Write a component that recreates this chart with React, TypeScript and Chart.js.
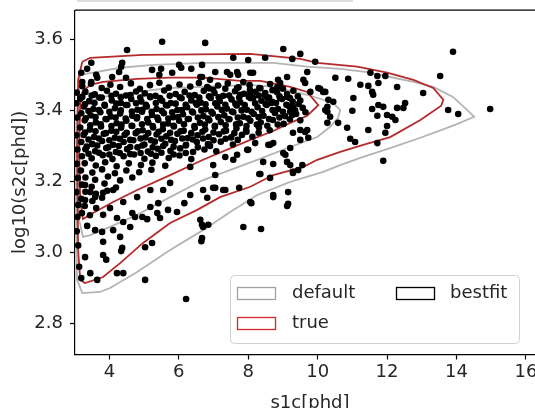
import React, { useEffect, useRef } from "react";
import { Chart, registerables } from "chart.js";
Chart.register(...registerables);

type P = [number, number];

const xTicks = [4, 6, 8, 10, 12, 14, 16];
const yTicks = [2.8, 3.0, 3.2, 3.4, 3.6];
const xLabel = "s1c[phd]";
const yLabel = "log10(s2c[phd])";
const legendNames = ["default", "true", "bestfit"];

// contour levels (closed polygons)
const trueOuter: P[] = [
  [3.22, 3.537], [3.45, 3.548], [4.97, 3.556], [8.06, 3.559], [9.5, 3.545], [9.99, 3.534],
  [11.14, 3.523], [12.0, 3.506], [12.76, 3.486], [13.33, 3.463], [13.62, 3.43], [13.56, 3.413],
  [12.96, 3.373], [12.09, 3.325], [11.31, 3.303], [10.65, 3.283], [9.99, 3.261], [9.59, 3.241],
  [8.72, 3.218], [8.06, 3.185], [7.19, 3.156], [6.53, 3.12], [5.75, 3.083], [4.97, 3.027],
  [4.31, 2.97], [3.82, 2.931], [3.3, 2.914], [3.16, 2.923], [3.1, 3.007], [3.07, 3.289],
  [3.1, 3.486], [3.22, 3.537],
];
const trueInner: P[] = [
  [3.22, 3.452], [3.45, 3.472], [3.82, 3.48], [4.8, 3.489], [5.75, 3.492], [6.7, 3.492],
  [7.77, 3.483], [8.35, 3.483], [9.21, 3.466], [9.7, 3.452], [10.02, 3.415], [9.7, 3.385],
  [9.21, 3.365], [8.72, 3.342], [8.06, 3.317], [6.7, 3.261], [5.75, 3.218], [4.8, 3.176],
  [4.11, 3.142], [3.53, 3.111], [3.24, 3.094], [3.16, 3.148], [3.13, 3.289], [3.16, 3.415],
  [3.22, 3.452],
];
const defaultOuter: P[] = [
  [3.16, 3.5], [4.31, 3.52], [5.26, 3.528], [6.7, 3.534], [8.06, 3.534], [8.72, 3.534],
  [9.7, 3.523], [10.65, 3.517], [11.43, 3.508], [12.09, 3.494], [12.76, 3.48], [13.33, 3.466],
  [13.9, 3.438], [14.31, 3.401], [14.51, 3.382], [14.1, 3.365], [13.73, 3.351], [12.96, 3.323],
  [12.09, 3.294], [11.31, 3.269], [10.65, 3.246], [10.16, 3.227], [9.21, 3.199], [8.26, 3.162],
  [7.48, 3.114], [6.7, 3.063], [5.75, 3.007], [4.8, 2.945], [4.02, 2.9], [3.73, 2.889],
  [3.22, 2.886], [3.07, 2.923], [3.04, 3.148], [3.07, 3.373], [3.16, 3.5],
];
const defaultInner: P[] = [
  [3.22, 3.407], [3.45, 3.427], [3.82, 3.438], [4.8, 3.452], [5.75, 3.463], [6.7, 3.466],
  [8.06, 3.472], [8.72, 3.466], [9.7, 3.444], [10.45, 3.421], [10.65, 3.401], [10.59, 3.379],
  [10.36, 3.354], [9.99, 3.325], [9.21, 3.297], [8.26, 3.261], [6.7, 3.204], [5.75, 3.156],
  [4.8, 3.106], [4.02, 3.072], [3.45, 3.049], [3.24, 3.044], [3.13, 3.092], [3.1, 3.289],
  [3.13, 3.387], [3.22, 3.407],
];

// scatter samples
const coreDense: P[] = [
  [3.22,3.468],[3.47,3.475],[3.78,3.463],[4.03,3.472],[4.31,3.466],[4.62,3.476],[4.88,3.461],[5.17,3.471],[5.44,3.478],[5.71,3.464],[6.02,3.473],[6.33,3.467],[6.58,3.477],[6.86,3.462],[7.13,3.470],[7.41,3.476],[7.72,3.465],[8.04,3.471],[8.32,3.463],[8.63,3.474],[8.92,3.468],
  [3.31,3.452],[3.58,3.445],[3.93,3.455],[4.19,3.447],[4.48,3.442],[4.77,3.453],[5.02,3.448],[5.33,3.441],[5.58,3.456],[5.91,3.446],[6.17,3.452],[6.46,3.443],[6.72,3.455],[7.03,3.449],[7.28,3.441],[7.62,3.454],[7.88,3.447],[8.21,3.452],[8.47,3.443],[8.83,3.451],[9.12,3.446],[9.43,3.440],
  [3.16,3.433],[3.42,3.426],[3.71,3.436],[4.07,3.428],[4.33,3.421],[4.63,3.432],[4.92,3.425],[5.18,3.437],[5.52,3.427],[5.77,3.421],[6.08,3.434],[6.36,3.428],[6.63,3.422],[6.92,3.435],[7.18,3.426],[7.52,3.431],[7.77,3.423],[8.07,3.434],[8.38,3.427],[8.66,3.421],[8.97,3.432],[9.28,3.425],
  [3.27,3.411],[3.54,3.404],[3.87,3.413],[4.16,3.406],[4.52,3.415],[4.81,3.402],[5.08,3.411],[5.36,3.404],[5.67,3.414],[5.96,3.401],[6.24,3.409],[6.52,3.416],[6.78,3.403],[7.11,3.411],[7.38,3.405],[7.67,3.414],[7.96,3.402],[8.27,3.409],[8.53,3.415],[8.86,3.404],[9.18,3.411],[9.57,3.407],
  [3.19,3.392],[3.46,3.386],[3.74,3.395],[4.04,3.383],[4.31,3.391],[4.66,3.385],[4.94,3.396],[5.23,3.387],[5.57,3.392],[5.84,3.381],[6.12,3.389],[6.41,3.394],[6.71,3.384],[6.98,3.391],[7.31,3.386],[7.57,3.395],[7.86,3.382],[8.16,3.390],[8.44,3.385],[8.77,3.393],[9.06,3.384],[9.38,3.390],
  [3.29,3.372],[3.61,3.366],[3.92,3.375],[4.21,3.364],[4.49,3.371],[4.79,3.377],[5.12,3.366],[5.41,3.373],[5.69,3.363],[6.01,3.371],[6.29,3.376],[6.61,3.365],[6.88,3.372],[7.21,3.367],[7.46,3.375],[7.76,3.364],[8.06,3.371],[8.36,3.366],[8.71,3.373],[9.02,3.362],
  [3.16,3.352],[3.44,3.346],[3.76,3.355],[4.06,3.343],[4.34,3.351],[4.66,3.356],[4.96,3.344],[5.26,3.352],[5.54,3.347],[5.86,3.355],[6.14,3.343],[6.46,3.351],[6.76,3.346],[7.04,3.354],[7.36,3.343],[7.66,3.350],[7.94,3.345],[8.31,3.352],[8.62,3.344],
  [3.26,3.331],[3.56,3.325],[3.84,3.334],[4.16,3.323],[4.44,3.331],[4.76,3.336],[5.04,3.324],[5.36,3.332],[5.64,3.327],[5.96,3.334],[6.26,3.322],[6.54,3.330],[6.86,3.325],[7.16,3.333],[7.51,3.324],[7.82,3.331],[8.12,3.326],
  [3.19,3.311],[3.51,3.305],[3.79,3.314],[4.11,3.303],[4.41,3.311],[4.69,3.316],[5.01,3.304],[5.31,3.312],[5.61,3.306],[5.89,3.314],[6.21,3.303],[6.52,3.311],[6.84,3.305],[7.21,3.312],[7.56,3.304],
  [3.31,3.291],[3.59,3.285],[3.91,3.294],[4.19,3.283],[4.51,3.291],[4.81,3.296],[5.11,3.284],[5.39,3.292],[5.76,3.286],[6.04,3.293],[6.41,3.283],[6.74,3.290],[7.08,3.285],
  [3.21,3.271],[3.49,3.265],[3.81,3.274],[4.09,3.263],[4.41,3.271],[4.71,3.276],[5.01,3.264],[5.34,3.272],[5.71,3.266],[6.02,3.273],[6.36,3.263],
  [3.29,3.251],[3.61,3.245],[3.88,3.254],[4.21,3.243],[4.56,3.251],[4.91,3.246],[5.24,3.253],[5.61,3.244],
  [3.18,3.231],[3.51,3.225],[3.79,3.234],[4.16,3.223],[4.49,3.231],[4.86,3.226],[5.21,3.233],
  [3.31,3.211],[3.59,3.205],[3.96,3.214],[4.31,3.203],[4.66,3.211],
  [3.21,3.191],[3.49,3.185],[3.86,3.194],[4.19,3.183],
  [3.31,3.171],[3.61,3.165],[3.94,3.174],
  [3.19,3.151],[3.51,3.145],[3.79,3.154],
  [3.29,3.131],[3.62,3.125],
  [3.21,3.111],[3.44,3.105],
];
const coreFill: P[] = [
  [3.22,3.438],[3.49,3.442],[3.78,3.436],[4.06,3.441],[4.33,3.437],[4.61,3.443],[4.89,3.436],[5.17,3.440],[5.46,3.435],[5.74,3.441],[6.03,3.437],[6.31,3.442],[6.59,3.436],[6.87,3.440],[7.15,3.437],[7.45,3.442],[7.74,3.436],
  [3.3,3.418],[3.57,3.421],[3.86,3.416],[4.2,3.419],[4.48,3.415],[4.77,3.420],[5.05,3.416],[5.34,3.421],[5.63,3.415],[5.91,3.419],[6.2,3.416],[6.49,3.421],[6.77,3.417],[7.05,3.420],[7.34,3.416],[7.63,3.419],[7.9,3.415],[8.2,3.42],
  [3.4,3.398],[3.7,3.401],[4.0,3.396],[4.33,3.400],[4.65,3.397],[4.95,3.402],[5.22,3.396],[5.51,3.399],[5.81,3.395],[6.09,3.401],[6.38,3.397],[6.65,3.400],[6.94,3.396],[7.24,3.401],[7.53,3.397],[7.81,3.400],[8.1,3.396],
  [3.32,3.378],[3.6,3.381],[3.89,3.376],[4.18,3.380],[4.47,3.377],[4.8,3.381],[5.09,3.376],[5.38,3.380],[5.7,3.377],[5.98,3.381],[6.26,3.376],[6.55,3.380],[6.84,3.377],[7.14,3.381],[7.43,3.376],[7.7,3.380],
  [3.45,3.358],[3.75,3.361],[4.06,3.356],[4.35,3.360],[4.64,3.357],[4.94,3.361],[5.25,3.356],[5.55,3.360],[5.85,3.357],[6.15,3.361],[6.45,3.356],[6.75,3.360],[7.04,3.357],
  [3.3,3.338],[3.6,3.341],[3.9,3.336],[4.2,3.340],[4.5,3.337],[4.82,3.341],[5.12,3.336],[5.42,3.340],[5.75,3.337],[6.05,3.341],[6.36,3.336],[6.68,3.340],
  [3.4,3.318],[3.7,3.321],[4.0,3.316],[4.3,3.320],[4.6,3.317],[4.9,3.321],[5.2,3.316],[5.5,3.320],[5.78,3.317],[6.1,3.321],
  [3.35,3.298],[3.65,3.301],[3.97,3.296],[4.27,3.300],[4.6,3.297],[4.95,3.301],[5.25,3.296],[5.55,3.3],
  [3.4,3.278],[3.7,3.281],[4.0,3.276],[4.3,3.280],[4.6,3.277],[4.9,3.28],
];
const coreEast: P[] = [
  [8.05,3.458],[8.35,3.462],[8.7,3.457],[9.0,3.461],[9.3,3.455],
  [8.02,3.438],[8.3,3.442],[8.6,3.436],[8.9,3.44],[9.2,3.435],[9.5,3.428],
  [8.5,3.418],[8.8,3.421],[9.1,3.416],[9.45,3.418],
  [8.4,3.398],[8.7,3.401],[9.0,3.396],[9.35,3.4],[9.65,3.395],
  [8.0,3.378],[8.3,3.381],[8.6,3.376],[8.9,3.38],[9.2,3.375],[9.5,3.372],
  [7.35,3.358],[7.65,3.361],[7.95,3.356],[8.25,3.36],[8.55,3.357],[8.85,3.36],
  [7.0,3.338],[7.3,3.341],[7.6,3.336],[7.95,3.34],[8.3,3.337],
  [6.4,3.318],[6.7,3.321],[7.0,3.316],[7.35,3.32],[7.7,3.317],
  [5.85,3.298],[6.2,3.301],[6.55,3.296],[6.9,3.3],
  [5.2,3.278],[5.5,3.281],[5.85,3.276],[6.2,3.28],
];
const upperPoints: P[] = [
  [3.48,3.534],[3.36,3.517],[3.62,3.5],[3.65,3.492],[3.19,3.506],[3.22,3.48],[3.48,3.48],[4.37,3.534],[4.34,3.523],[4.28,3.508],[4.51,3.57],[5.52,3.593],[4.48,3.492],[4.08,3.494],[5.23,3.514],[5.49,3.517],[5.44,3.5],[5.81,3.506],[6.01,3.528],[6.07,3.52],[6.36,3.517],[6.67,3.528],[6.67,3.494],
  [6.76,3.59],[9.01,3.573],[9.5,3.559],[9.27,3.545],[9.93,3.537],[7.57,3.548],[8.0,3.542],[8.49,3.548],[7.05,3.508],[7.39,3.508],[7.48,3.5],[7.68,3.508],[7.71,3.5],[8.06,3.506],[8.14,3.506],[7.86,3.48],[9.12,3.494],[8.86,3.486],[8.92,3.477],[9.7,3.508],[9.59,3.486],[9.64,3.477],[10.02,3.463],[9.79,3.452],[10.16,3.452],[6.62,3.494],[6.9,3.486],[6.82,3.466],[6.99,3.458],[7.34,3.461],[7.68,3.463],[7.77,3.444],[8.06,3.449],[8.14,3.435],[8.49,3.449],[8.55,3.435],[8.69,3.424],[8.92,3.435],[9.12,3.438],[9.29,3.41],[9.21,3.396],[8.84,3.466],
];
const rightPoints: P[] = [
  [10.51,3.492],[10.88,3.489],[11.52,3.506],[11.72,3.497],[11.95,3.497],[11.23,3.472],[11.46,3.469],[11.57,3.452],[11.6,3.444],[11.75,3.477],[12.29,3.466],[13.04,3.449],[13.53,3.497],[13.9,3.565],[13.76,3.401],[14.05,3.39],[14.97,3.404],[11.03,3.435],[11.0,3.399],[11.57,3.404],[11.75,3.415],[11.89,3.41],[12.29,3.407],[12.47,3.407],[12.52,3.421],[11.72,3.385],[12.15,3.382],[12.24,3.373],[12.0,3.356],[11.46,3.345],[10.85,3.351],[10.59,3.365],[10.45,3.424],[10.31,3.43],[10.28,3.41],[10.22,3.401],[10.07,3.461],[10.22,3.452],[12.0,3.387],[11.95,3.337],[10.94,3.32],[11.08,3.311],[11.72,3.308],[11.89,3.258],[10.36,3.382],[10.28,3.365],[10.28,3.396],
  [9.27,3.387],[9.29,3.337],[9.5,3.345],[9.64,3.339],[9.73,3.323],[9.5,3.317],[9.21,3.294],[9.07,3.275],[9.12,3.255],[9.21,3.246],[9.56,3.246],[9.29,3.227],[9.44,3.232],[8.43,3.255],[8.63,3.21],[8.35,3.221],[8.72,3.308],[8.63,3.303],[8.0,3.289],[8.06,3.142],[8.72,3.156],[9.15,3.17],[9.15,3.137],[9.7,3.345],[9.01,3.28],[8.2,3.308],[8.58,3.303],[7.97,3.289],[7.68,3.275],[7.57,3.261],[7.34,3.269],[6.99,3.246],[7.05,3.218],[6.99,3.182],[7.34,3.176],[9.29,3.224],[8.72,3.162],[8.37,3.066],[8.09,3.139],[9.12,3.131],[8.32,3.221],[8.72,3.249],
];
const lowerPoints: P[] = [
  [3.3,2.987],[3.45,2.942],[3.65,2.923],[3.82,3.03],[3.82,2.993],[4.11,3.063],[4.31,3.044],[4.37,3.013],[4.22,2.942],[4.4,2.942],[5.03,3.015],[5.03,2.923],[5.23,3.027],[6.21,2.869],[4.6,3.072],[4.22,3.097],[4.66,3.111],[4.95,3.1],[5.18,3.128],[5.38,3.111],[5.41,3.139],[5.46,3.097],[5.69,3.12],[5.95,3.114],[5.55,3.176],[5.75,3.196],[6.33,3.162],[6.7,3.176],[6.82,3.154],[7.05,3.182],[7.28,3.176],[6.33,3.241],[6.62,3.092],[6.67,3.078],[6.7,3.072],[6.85,3.078],[6.67,3.041],[7.86,3.072],[5.18,3.176],[4.8,3.156],[4.4,3.142],[4.11,3.176],[3.19,2.928],[3.91,2.98],[4.34,3.004],[6.65,3.032],[3.79,3.058],[4.4,3.086],[4.74,3.1],[5.09,3.094],[6.16,3.139],[7.74,3.182],
  [3.3,3.19],[3.45,3.17],[3.82,3.168],[3.59,3.156],[3.3,3.148],[3.1,3.134],[3.82,3.106],[4.02,3.125],[3.59,3.063],[3.36,3.075],[3.1,3.02],[3.13,2.96],
];
const leftEdge: P[] = [
  [3.06,3.45],[3.05,3.42],[3.07,3.38],[3.05,3.33],[3.08,3.29],[3.06,3.25],[3.09,3.21],[3.05,3.17],[3.08,3.1],[3.06,3.06],
];

const X_MIN = 3.01, X_MAX = 16.55, Y_MIN = 2.713, Y_MAX = 3.682;
const FONT = "'DejaVu Sans', sans-serif";
const RED = "#d62728";
const GRAY = "#a0a0a0";

const toXY = (a: P[]) => a.map(([x, y]) => ({ x, y }));

const overlay = {
  id: "overlay",
  afterDraw(chart: any) {
    const { ctx, chartArea: a } = chart;
    ctx.save();
    ctx.strokeStyle = "#000";
    ctx.lineWidth = 1.2;
    ctx.beginPath();
    ctx.moveTo(a.left, a.top);
    ctx.lineTo(a.right, a.top);
    ctx.lineTo(a.right, a.bottom);
    ctx.stroke();
    ctx.fillStyle = "#dedede";
    ctx.fillRect(77, 0, 276, 2);
    ctx.fillStyle = "#262626";
    ctx.font = `18px ${FONT}`;
    ctx.textAlign = "center";
    ctx.textBaseline = "alphabetic";
    ctx.fillText(xLabel, (a.left + a.right) / 2, 408);
    ctx.translate(24.5, (a.top + a.bottom) / 2);
    ctx.rotate(-Math.PI / 2);
    ctx.fillText(yLabel, 0, 0);
    ctx.setTransform(1, 0, 0, 1, 0, 0);
    const bx = 230.5, by = 275.5, bw = 289, bh = 68, r = 4;
    ctx.beginPath();
    ctx.moveTo(bx + r, by);
    ctx.arcTo(bx + bw, by, bx + bw, by + bh, r);
    ctx.arcTo(bx + bw, by + bh, bx, by + bh, r);
    ctx.arcTo(bx, by + bh, bx, by, r);
    ctx.arcTo(bx, by, bx + bw, by, r);
    ctx.closePath();
    ctx.fillStyle = "rgba(255,255,255,0.85)";
    ctx.fill();
    ctx.strokeStyle = "#d0d0d0";
    ctx.lineWidth = 1;
    ctx.stroke();
    const entries = [
      { name: legendNames[0], color: GRAY, px: 237.5, py: 287.5, tx: 292 },
      { name: legendNames[1], color: RED, px: 237.5, py: 317.5, tx: 292 },
      { name: legendNames[2], color: "#000", px: 396.5, py: 287.5, tx: 450 },
    ];
    ctx.textAlign = "left";
    ctx.textBaseline = "middle";
    for (const e of entries) {
      ctx.fillStyle = "#fff";
      ctx.fillRect(e.px, e.py, 38, 12);
      ctx.strokeStyle = e.color;
      ctx.lineWidth = 1.3;
      ctx.strokeRect(e.px, e.py, 38, 12);
      ctx.fillStyle = "#262626";
      ctx.fillText(e.name, e.tx, e.py + 6);
    }
    ctx.restore();
  },
};

export default function App() {
  const ref = useRef<HTMLCanvasElement>(null);
  useEffect(() => {
    if (!ref.current) return;
    Chart.defaults.font.family = FONT;
    Chart.defaults.font.size = 18;
    const lineDs = (label: string, pts: P[], color: string, order: number) => ({
      label,
      data: toXY(pts),
      showLine: true,
      borderColor: color,
      borderWidth: 1.8,
      pointRadius: 0,
      fill: false,
      tension: 0,
      order,
    });
    const allPts = [...coreDense, ...coreFill, ...coreEast, ...upperPoints, ...rightPoints, ...lowerPoints, ...leftEdge];
    const chart = new Chart(ref.current, {
      type: "scatter",
      data: {
        datasets: [
          lineDs("default outer", defaultOuter, "#b4b4b4", 3),
          lineDs("default inner", defaultInner, "#b4b4b4", 3),
          lineDs("true outer", trueOuter, "#b52a2a", 2),
          lineDs("true inner", trueInner, "#b52a2a", 2),
          {
            label: "samples",
            data: toXY(allPts),
            pointRadius: 3.3,
            pointBackgroundColor: "#000",
            pointBorderWidth: 0,
            showLine: false,
            order: 0,
          } as any,
        ],
      },
      options: {
        animation: false,
        responsive: false,
        devicePixelRatio: 1,
        layout: { padding: { top: 0, right: 15, left: 0, bottom: 0 } },
        plugins: { legend: { display: false }, tooltip: { enabled: false } },
        scales: {
          x: {
            type: "linear",
            min: X_MIN,
            max: X_MAX,
            afterFit: (s: any) => { s.height = 53.5; s.paddingLeft = 0; s.paddingRight = 0; },
            afterBuildTicks: (s: any) => { s.ticks = xTicks.map((v) => ({ value: v })); },
            ticks: { color: "#262626", padding: 2, maxRotation: 0, autoSkip: false, callback: (v: any) => String(v) },
            grid: { drawOnChartArea: false, drawTicks: true, tickLength: 5, color: "#000", tickWidth: 1.2 },
            border: { display: true, color: "#000", width: 1.2 },
          },
          y: {
            type: "linear",
            min: Y_MIN,
            max: Y_MAX,
            afterFit: (s: any) => { s.width = 75; s.paddingTop = 10.2; s.paddingBottom = 0; },
            afterBuildTicks: (s: any) => { s.ticks = yTicks.map((v) => ({ value: v })); },
            ticks: { color: "#262626", padding: 7, autoSkip: false, callback: (v: any) => Number(v).toFixed(1) },
            grid: { drawOnChartArea: false, drawTicks: true, tickLength: 5, color: "#000", tickWidth: 1.2 },
            border: { display: true, color: "#000", width: 1.2 },
          },
        },
      },
      plugins: [overlay],
    } as any);
    return () => chart.destroy();
  }, []);
  return (
    <div style={{ position: "fixed", left: 0, top: 0, width: 535, height: 408, overflow: "hidden", background: "#fff" }}>
      <canvas ref={ref} width={560} height={408} style={{ width: 560, height: 408, display: "block" }} />
    </div>
  );
}
